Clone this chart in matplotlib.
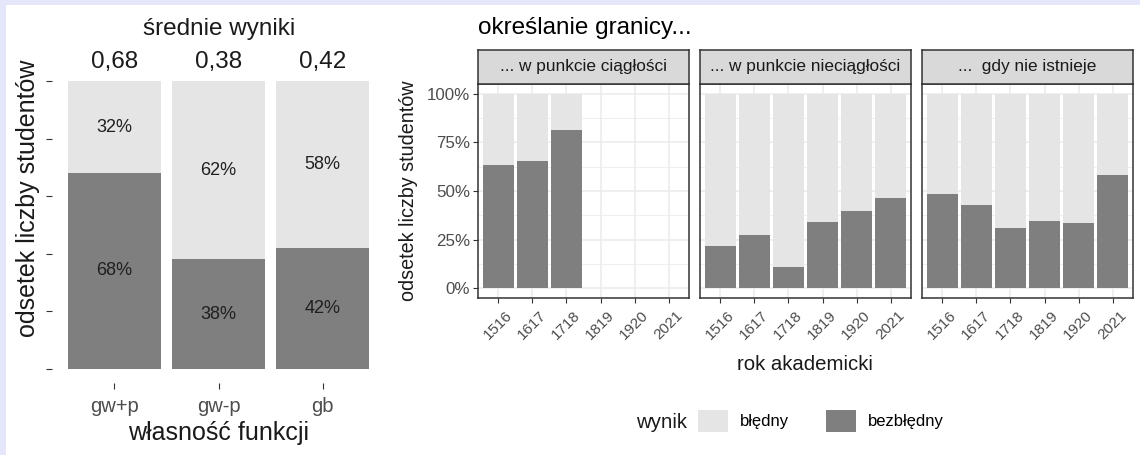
import matplotlib
matplotlib.use('Agg')
import matplotlib.pyplot as plt
import matplotlib.transforms as mtransforms
from matplotlib.patches import Patch, Rectangle
import numpy as np

plt.rcParams['font.family'] = ['Liberation Sans', 'DejaVu Sans']

# ---------------- data ----------------
left_categories = ['gw+p', 'gw-p', 'gb']
left_correct = [0.68, 0.38, 0.42]          # share "bezbłędny"
left_means = ['0,68', '0,38', '0,42']

years = ['1516', '1617', '1718', '1819', '1920', '2021']
facet_titles = ['... w punkcie ciągłości', '... w punkcie nieciągłości', '...  gdy nie istnieje']
correct_ciaglosc = [0.633, 0.653, 0.814, np.nan, np.nan, np.nan]
correct_nieciaglosc = [0.219, 0.274, 0.107, 0.343, 0.395, 0.466]
correct_nieistnieje = [0.486, 0.429, 0.312, 0.348, 0.334, 0.581]
legend_labels = ['błędny', 'bezbłędny']

# ---------------- style ----------------
LIGHT = '#E5E5E5'
DARK = '#7F7F7F'
W, H = 1140, 455


def box(x0, y0, x1, y1):
    return [x0 / W, 1 - y1 / H, (x1 - x0) / W, (y1 - y0) / H]


def fx(px):
    return px / W


def fy(py):
    return 1 - py / H


fig = plt.figure(figsize=(W / 100, H / 100), dpi=100)
fig.patch.set_facecolor('white')
fig.patches.append(Rectangle((0, fy(5)), 1, 5 / H, transform=fig.transFigure,
                             facecolor='#E6E6FA', edgecolor='none', zorder=0))
fig.patches.append(Rectangle((0, 0), 6 / W, 1, transform=fig.transFigure,
                             facecolor='#E6E6FA', edgecolor='none', zorder=0))

# ---------------- left chart ----------------
axL = fig.add_axes(box(52, 67, 385, 383))
xl = np.arange(1, len(left_categories) + 1)
corr = np.array(left_correct)
axL.bar(xl, corr, width=0.9, color=DARK, edgecolor='none')
axL.bar(xl, 1 - corr, bottom=corr, width=0.9, color=LIGHT, edgecolor='none')
axL.set_xlim(0.4, 3.6)
axL.set_ylim(-0.05, 1.05)
for s in axL.spines.values():
    s.set_visible(False)
axL.set_yticks(np.linspace(0, 1, 6))
axL.set_yticklabels([])
axL.set_xticks(xl)
axL.set_xticklabels(left_categories, fontsize=14.5, color='#4D4D4D')
axL.tick_params(axis='both', length=4, width=0.8, color='#333333')
axL.tick_params(axis='x', pad=6)
for xi, c in zip(xl, corr):
    axL.text(xi, c / 2, f'{round(c * 100)}%', ha='center', va='center',
             fontsize=13, color='#1F1F1F')
    axL.text(xi, c + (1 - c) / 2, f'{round((1 - c) * 100)}%', ha='center',
             va='center', fontsize=13, color='#1F1F1F')
trans = mtransforms.blended_transform_factory(axL.transData, fig.transFigure)
for xi, m in zip(xl, left_means):
    axL.text(xi, fy(68), m, transform=trans, ha='center', va='baseline',
             fontsize=17.5, color='#1A1A1A')
fig.text(fx(219), fy(29), 'średnie wyniki', ha='center', va='center',
         fontsize=17.5, color='#1A1A1A')
fig.text(fx(28), fy(198), 'odsetek liczby studentów', rotation=90,
         ha='center', va='center', fontsize=18, color='#1A1A1A')
fig.text(fx(219), fy(433), 'własność funkcji', ha='center', va='center',
         fontsize=18, color='#1A1A1A')

# ---------------- right facets ----------------
panel_x0 = [478, 700, 922]
panel_w = 211
series = [correct_ciaglosc, correct_nieciaglosc, correct_nieistnieje]
xr = np.arange(1, len(years) + 1)
offset = mtransforms.ScaledTranslation(7 / 100, 0, fig.dpi_scale_trans)

for i, (title, vals) in enumerate(zip(facet_titles, series)):
    x0 = panel_x0[i]
    ax = fig.add_axes(box(x0, 84, x0 + panel_w, 298))
    ax.set_facecolor('white')
    ax.set_xlim(0.4, 6.6)
    ax.set_ylim(-0.05, 1.05)
    ax.set_yticks([0, 0.25, 0.5, 0.75, 1.0])
    ax.set_yticks([0.125, 0.375, 0.625, 0.875], minor=True)
    ax.set_xticks(xr)
    ax.set_axisbelow(True)
    ax.grid(which='major', color='#EBEBEB', linewidth=1.1)
    ax.grid(which='minor', axis='y', color='#EBEBEB', linewidth=0.55)
    v = np.array(vals, dtype=float)
    ok = ~np.isnan(v)
    ax.bar(xr[ok], v[ok], width=0.9, color=DARK, edgecolor='none', zorder=2)
    ax.bar(xr[ok], 1 - v[ok], bottom=v[ok], width=0.9, color=LIGHT,
           edgecolor='none', zorder=2)
    for s in ax.spines.values():
        s.set_color('#333333')
        s.set_linewidth(1.1)
        s.set_zorder(3)
    ax.tick_params(which='minor', length=0)
    ax.tick_params(axis='both', which='major', length=3.6, width=0.8,
                   color='#333333', labelcolor='#4D4D4D')
    if i == 0:
        ax.set_yticklabels(['0%', '25%', '50%', '75%', '100%'], fontsize=12.2)
        ax.tick_params(axis='y', pad=2)
    else:
        ax.tick_params(axis='y', length=0, labelleft=False)
    ax.set_xticklabels(years, fontsize=11, rotation=45, ha='right',
                       va='top', rotation_mode='anchor')
    ax.tick_params(axis='x', pad=4)
    for lab in ax.get_xticklabels():
        lab.set_transform(lab.get_transform() + offset)

    sax = fig.add_axes(box(x0, 50, x0 + panel_w, 84))
    sax.set_facecolor('#D9D9D9')
    sax.set_xticks([])
    sax.set_yticks([])
    for s in sax.spines.values():
        s.set_color('#333333')
        s.set_linewidth(1.1)
    sax.text(0.5, 0.5, title, transform=sax.transAxes, ha='center',
             va='center', fontsize=12.4, color='#1A1A1A')

fig.text(fx(478), fy(28), 'określanie granicy...', ha='left', va='center',
         fontsize=17.5, color='#000000')
fig.text(fx(408), fy(191), 'odsetek liczby studentów', rotation=90,
         ha='center', va='center', fontsize=14.2, color='#1A1A1A')
fig.text(fx(805), fy(364), 'rok akademicki', ha='center', va='center',
         fontsize=14.7, color='#1A1A1A')

# ---------------- legend ----------------
fig.text(fx(636), fy(423), 'wynik', ha='left', va='center', fontsize=14.7,
         color='#1A1A1A')
handles = [Patch(facecolor=LIGHT, edgecolor='none'),
           Patch(facecolor=DARK, edgecolor='none')]
fig.legend(handles=handles, labels=legend_labels, ncol=2, loc='center left',
           bbox_to_anchor=(fx(698), fy(421)), frameon=False, fontsize=12,
           handlelength=1.8, handleheight=1.74, handletextpad=0.72,
           columnspacing=2.2, borderpad=0, borderaxespad=0)

fig.savefig('out.png', dpi=100, facecolor='white')
